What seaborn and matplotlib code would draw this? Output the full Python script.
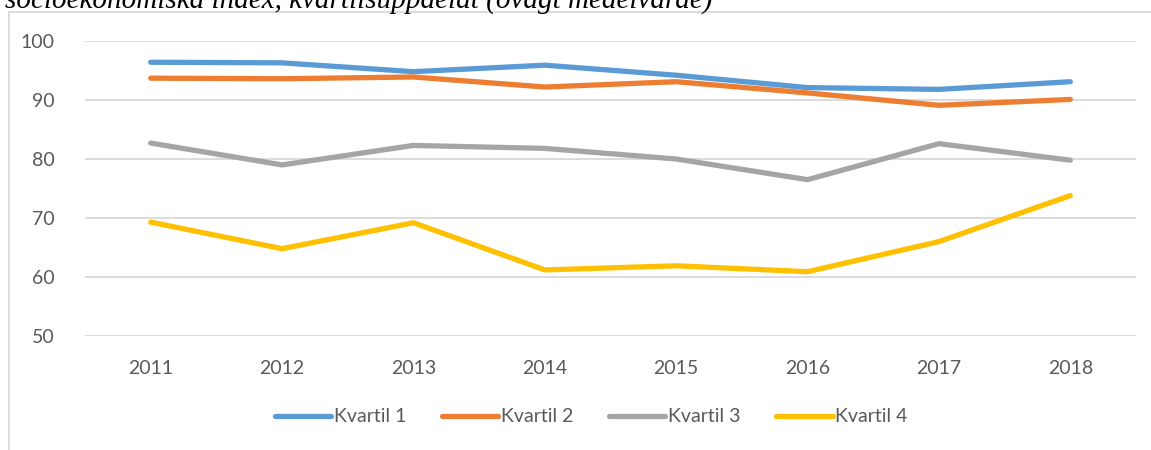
import matplotlib
matplotlib.use("Agg")
import matplotlib.pyplot as plt
import matplotlib.patches as mpatches
import pandas as pd
import seaborn as sns

# Index per socioeconomic quartile, 2011-2018
years = [2011, 2012, 2013, 2014, 2015, 2016, 2017, 2018]
kvartil_1 = [96.4, 96.3, 94.8, 95.9, 94.2, 92.1, 91.8, 93.1]
kvartil_2 = [93.7, 93.6, 93.9, 92.2, 93.1, 91.2, 89.1, 90.1]
kvartil_3 = [82.7, 79.0, 82.3, 81.8, 80.0, 76.5, 82.6, 79.8]
kvartil_4 = [69.3, 64.8, 69.2, 61.2, 61.9, 60.9, 66.0, 73.8]
series_names = ["Kvartil 1", "Kvartil 2", "Kvartil 3", "Kvartil 4"]
y_ticks = [50, 60, 70, 80, 90, 100]
title_text = "socioekonomiska index, kvartilsuppdelat (ovägt medelvärde)"

colors = ["#5B9BD5", "#ED7D31", "#A5A5A5", "#FFC000"]
text_color = "#595959"
grid_color = "#D9D9D9"

frames = []
for name, vals in zip(series_names, [kvartil_1, kvartil_2, kvartil_3, kvartil_4]):
    frames.append(pd.DataFrame({"År": years, "Värde": vals, "Kvartil": name}))
df = pd.concat(frames, ignore_index=True)

sns.set_theme(style="white")
plt.rcParams["font.family"] = ["Lato", "DejaVu Sans"]

W, H = 1151, 450
fig = plt.figure(figsize=(W / 100, H / 100), dpi=100)
ax = fig.add_axes([85 / W, 1 - 336 / H, (1136 - 85) / W, (336 - 41) / H])

sns.lineplot(data=df, x="År", y="Värde", hue="Kvartil", hue_order=series_names,
             palette=colors, linewidth=3.8, ax=ax, legend=True,
             solid_capstyle="round", solid_joinstyle="round")

ax.set_xlim(years[0] - 0.5, years[-1] + 0.5)
ax.set_ylim(y_ticks[0], y_ticks[-1])
ax.set_xticks(years)
ax.set_xticklabels([str(y) for y in years])
ax.set_yticks(y_ticks)
ax.yaxis.grid(True, color=grid_color, linewidth=1.3)
ax.set_axisbelow(True)
for s in ax.spines.values():
    s.set_visible(False)
ax.tick_params(axis="both", length=0, labelsize=14, colors=text_color)
ax.tick_params(axis="y", pad=22)
ax.tick_params(axis="x", pad=17)
ax.set_xlabel("")
ax.set_ylabel("")

handles, labels = ax.get_legend_handles_labels()
leg = ax.legend(handles, labels, loc="center", bbox_to_anchor=(591 / W, 1 - 417 / H),
                bbox_transform=fig.transFigure, ncol=4, frameon=False,
                fontsize=14, handlelength=2.9, handletextpad=0.12,
                columnspacing=1.85, labelcolor=text_color)
for line in leg.get_lines():
    line.set_linewidth(3.8)
    line.set_solid_capstyle("round")

# Outer chart frame (top and left edges)
frame = mpatches.Rectangle((9 / W, -0.1), 1.2, (1 - 12 / H) + 0.1,
                           transform=fig.transFigure, fill=False,
                           edgecolor=grid_color, linewidth=1.3)
fig.patches.append(frame)

# Caption line above the chart
fig.text(5 / W, 1 - 8 / H, title_text, family=["Liberation Serif"],
         style="italic", fontsize=21, color="black", ha="left", va="baseline")

fig.savefig("out.png", dpi=100)
